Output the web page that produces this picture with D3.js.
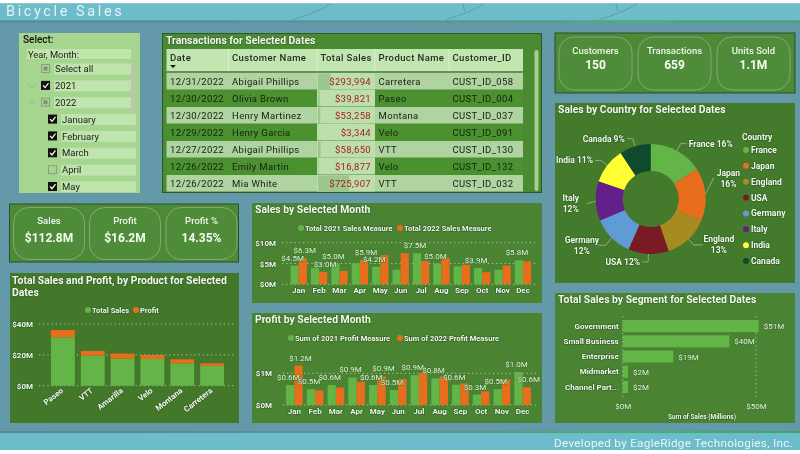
<!DOCTYPE html>
<html>
<head>
<meta charset="utf-8">
<script src="https://cdn.jsdelivr.net/npm/d3@7"></script>
<style>
  html, body { margin: 0; padding: 0; background: #fff; overflow: hidden; }
  svg { display: block; filter: blur(0.3px); }
  text { font-family: Roboto, "Open Sans", sans-serif; }
  .lbl { fill: #f1f8ec; font-weight: 700; paint-order: stroke; stroke: #2f5f22; stroke-width: 1.2px; }
  .dl { fill: #e6f2df; paint-order: stroke; stroke: #3c7327; stroke-width: 1px; }
  .title { fill: #f3f8ef; font-weight: 700; font-size: 10.4px; paint-order: stroke; stroke: #2f5f22; stroke-width: 0.8px; }
</style>
</head>
<body>
<svg id="chart" width="800" height="454"></svg>
<script>
// slicer
const slicerRows = ["Select all", "2021", "2022", "January", "February", "March", "April", "May"];
const slicerState = ["part", "on", "part", "on", "on", "on", "off", "on"];
const slicerLevel = [0, 0, 0, 1, 1, 1, 1, 1];

// table
const tableHead = ["Date", "Customer Name", "Total Sales", "Product Name", "Customer_ID"];
const dates = ["12/31/2022", "12/30/2022", "12/30/2022", "12/29/2022", "12/27/2022", "12/26/2022", "12/26/2022"];
const customers = ["Abigail Phillips", "Olivia Brown", "Henry Martinez", "Henry Garcia", "Abigail Phillips", "Emily Martin", "Mia White"];
const totalSales = [293994, 39821, 53258, 3344, 58650, 16877, 725907];
const productNames = ["Carretera", "Paseo", "Montana", "Velo", "VTT", "Velo", "VTT"];
const customerIds = ["CUST_ID_058", "CUST_ID_004", "CUST_ID_037", "CUST_ID_091", "CUST_ID_130", "CUST_ID_132", "CUST_ID_032"];

// kpi cards
const kpiTop = [["Customers", "150"], ["Transactions", "659"], ["Units Sold", "1.1M"]];
const kpiLeft = [["Sales", "$112.8M"], ["Profit", "$16.2M"], ["Profit %", "14.35%"]];

// product chart
const products = ["Paseo", "VTT", "Amarilla", "Velo", "Montana", "Carretera"];
const productSales = [31.4, 19.5, 17.5, 17.3, 14.5, 12.8];
const productProfit = [4.7, 3.0, 3.3, 2.6, 2.6, 1.7];

// monthly charts
const months = ["Jan", "Feb", "Mar", "Apr", "May", "Jun", "Jul", "Aug", "Sep", "Oct", "Nov", "Dec"];
const sales2021 = [4.5, 3.9, 5.0, 5.0, 4.2, 3.5, 7.5, 5.0, 4.3, 3.9, 3.5, 5.8];
const sales2022 = [6.3, 3.0, 3.2, 5.9, 7.0, 7.5, 5.6, 6.3, 4.7, 2.9, 4.5, 5.5];
const salesLabels2021 = [1, 0, 1, 0, 1, 0, 1, 1, 0, 1, 0, 1];
const salesLabels2022 = [1, 1, 0, 1, 0, 0, 0, 0, 0, 0, 0, 0];
const profit2021 = [0.63, 0.5, 0.63, 0.87, 0.63, 0.47, 0.94, 0.84, 0.64, 0.33, 0.5, 1.04];
const profit2022 = [1.24, 0.46, 0.55, 0.73, 0.9, 0.82, 1.0, 0.9, 0.68, 0.43, 0.81, 0.56];
const profitLabels2021 = [1, 1, 1, 1, 1, 1, 1, 1, 1, 1, 1, 1];
const profitLabels2022 = [1, 0, 0, 0, 1, 0, 0, 0, 0, 0, 0, 1];

// pie
const countries = ["France", "Japan", "England", "USA", "Germany", "Italy", "India", "Canada"];
const countryShare = [15.8, 15.5, 13.4, 11.9, 12.0, 11.6, 10.6, 9.2];
const countryColors = ["#62b546", "#e86d1d", "#a78a20", "#7a1a24", "#5f9bd5", "#641f8a", "#ffff33", "#0f4a2e"];
const pieSingleLine = ["France", "Canada", "India", "USA"];

// segments
const segments = ["Government", "Small Business", "Enterprise", "Midmarket", "Channel Part..."];
const segmentSales = [51, 40, 19, 2, 2];

const GREEN = "#62b546", ORANGE = "#e86d1d";
const svg = d3.select("#chart");

// page background and bands
svg.append("rect").attr("width", 800).attr("height", 454).attr("fill", "#6499aa");
svg.append("rect").attr("width", 800).attr("height", 3.5).attr("fill", "#fff");
svg.append("rect").attr("y", 3.5).attr("width", 800).attr("height", 17).attr("fill", "#6dbccb");
svg.append("text").attr("x", 6).attr("y", 16).attr("fill", "#e4f2f5")
  .attr("font-size", 14.5).attr("letter-spacing", 2.6).text("Bicycle Sales");

// faint bike frame strokes behind the header
[0, 153, 306].forEach(dx => {
  svg.append("path").attr("d", `M${293 + dx},19.5 C${308 + dx},15 ${320 + dx},11 ${331 + dx},3.5`)
    .attr("fill", "none").attr("stroke", "#5f8e9a").attr("stroke-width", 0.7);
  if (dx) svg.append("path").attr("d", `M${310 + dx},3.5 L${312 + dx},12`)
    .attr("fill", "none").attr("stroke", "#5f8e9a").attr("stroke-width", 0.7);
});

const grad = svg.append("defs").append("linearGradient").attr("id", "foot");
grad.append("stop").attr("offset", "0%").attr("stop-color", "#578895");
grad.append("stop").attr("offset", "55%").attr("stop-color", "#5a958f");
grad.append("stop").attr("offset", "80%").attr("stop-color", "#3fb56c");
grad.append("stop").attr("offset", "100%").attr("stop-color", "#3fa36c");
svg.append("rect").attr("y", 20.5).attr("width", 800).attr("height", 2).attr("fill", "url(#foot)");
svg.append("rect").attr("y", 431).attr("width", 800).attr("height", 2).attr("fill", "url(#foot)");
svg.append("rect").attr("y", 433).attr("width", 800).attr("height", 17).attr("fill", "#6dbccb");
svg.append("rect").attr("y", 450).attr("width", 800).attr("height", 4).attr("fill", "#fff");
svg.append("text").attr("x", 793).attr("y", 447).attr("text-anchor", "end").attr("fill", "#e8f5f7")
  .attr("font-size", 11.7).attr("letter-spacing", 0.3).text("Developed by EagleRidge Technologies, Inc.");

function panel(x, y, w, h, fill, stroke) {
  const r = svg.append("rect").attr("x", x).attr("y", y).attr("width", w).attr("height", h).attr("fill", fill);
  if (stroke) r.attr("stroke", stroke).attr("stroke-width", 1);
}

function title(x, y, str) {
  svg.append("text").attr("class", "title").attr("x", x).attr("y", y).text(str);
}

function legend(items, y, size) {
  items.forEach(it => {
    svg.append("circle").attr("cx", it.x).attr("cy", y).attr("r", 3).attr("fill", it.color);
    svg.append("text").attr("class", "lbl").attr("x", it.x + 4).attr("y", y + 2.5)
      .attr("font-size", size).text(it.name);
  });
}

// dotted value axis shared by the column charts
function valueAxis(yScale, ticks, labelX, x0, x1, fmt) {
  const g = svg.append("g").attr("transform", `translate(${labelX + 4},0)`)
    .call(d3.axisLeft(yScale).tickValues(ticks).tickSize(0).tickPadding(4).tickFormat(fmt));
  g.select(".domain").remove();
  g.selectAll("text").attr("class", "lbl").attr("font-size", 8).style("font-family", null);
  svg.append("g").selectAll("line").data(ticks).join("line")
    .attr("x1", x0).attr("x2", x1)
    .attr("y1", d => yScale(d)).attr("y2", d => yScale(d))
    .attr("stroke", "#c7dcc0").attr("stroke-width", 0.8).attr("stroke-dasharray", "1.2 3");
}

function monthChart(opts) {
  const x0 = d3.scaleBand().domain(months).range(opts.xRange).paddingInner(0.2).paddingOuter(0.1);
  const x1 = d3.scaleBand().domain([0, 1]).range([0, x0.bandwidth()]);
  const y = d3.scaleLinear().domain(opts.yDomain).range(opts.yRange);
  valueAxis(y, opts.ticks, opts.labelX, opts.gridX[0], opts.gridX[1], d => "$" + d + "M");

  [opts.a, opts.b].forEach((vals, s) => {
    svg.append("g").selectAll("rect").data(vals).join("rect")
      .attr("x", (d, i) => x0(months[i]) + x1(s))
      .attr("y", d => y(d))
      .attr("width", x1.bandwidth())
      .attr("height", d => y(0) - y(d))
      .attr("fill", s ? ORANGE : GREEN);
  });
  [[opts.a, opts.aShow, 0], [opts.b, opts.bShow, 1]].forEach(([vals, show, s]) => {
    const shown = vals.map((v, i) => ({ v, i })).filter(d => show[d.i]);
    svg.append("g").selectAll("text").data(shown).join("text")
      .attr("class", "dl").attr("font-size", 8).attr("text-anchor", "middle")
      .attr("x", d => x0(months[d.i]) + x1(s) + x1.bandwidth() / 2 + (s ? 2 : -2))
      .attr("y", d => y(d.v) - 5)
      .text(d => "$" + d.v.toFixed(1) + "M");
  });

  const ax = svg.append("g").attr("transform", `translate(0,${opts.yRange[0]})`)
    .call(d3.axisBottom(x0).tickSize(0).tickPadding(3));
  ax.select(".domain").remove();
  ax.selectAll("text").attr("class", "lbl").attr("font-size", 8).style("font-family", null);
}

// slicer panel
panel(19, 33, 121, 160, "#a5d58f");
svg.append("text").attr("x", 23).attr("y", 43).attr("font-size", 10).attr("font-weight", 500).attr("fill", "#111").text("Select:");
svg.append("rect").attr("x", 27).attr("y", 49).attr("width", 104).attr("height", 10).attr("fill", "#bfe5ad");
svg.append("text").attr("x", 28).attr("y", 57.5).attr("font-size", 9.3).attr("fill", "#222").text("Year, Month:");
svg.append("clipPath").attr("id", "slicerClip").append("rect").attr("x", 19).attr("y", 33).attr("width", 121).attr("height", 159);
const rowY = d3.scalePoint().domain(d3.range(slicerRows.length)).range([69, 187]);
const slicer = svg.append("g").attr("clip-path", "url(#slicerClip)");
slicer.append("rect").attr("x", 131).attr("y", 62).attr("width", 5).attr("height", 64).attr("fill", "#b6c9a9");
slicerRows.forEach((name, i) => {
  const cy = rowY(i), boxX = slicerLevel[i] ? 48 : 41, textX = boxX + 14;
  slicer.append("rect").attr("x", textX - 1).attr("y", cy - 5.5).attr("height", 11)
    .attr("width", (slicerLevel[i] ? 136 : 131) - textX + 1).attr("fill", "#bfe5ad");
  const st = slicerState[i];
  slicer.append("rect").attr("x", boxX + 0.5).attr("y", cy - 4.5).attr("width", 8).attr("height", 8)
    .attr("fill", st === "on" ? "#111" : "none")
    .attr("stroke", st === "on" ? "#111" : "#8c9c84").attr("stroke-width", 1);
  if (st === "on") {
    slicer.append("path").attr("d", `M${boxX + 2},${cy - 0.5} l2,2.2 l3.5,-4.5`)
      .attr("fill", "none").attr("stroke", "#fff").attr("stroke-width", 1.2);
  } else if (st === "part") {
    slicer.append("rect").attr("x", boxX + 2.5).attr("y", cy - 2.5).attr("width", 4).attr("height", 4).attr("fill", "#7f8f78");
  }
  slicer.append("text").attr("x", textX).attr("y", cy + 3.2).attr("font-size", 9.5).attr("fill", "#222").text(name);
});
// year expanders
slicer.append("path").attr("d", `M29,${rowY(1) - 1} l3,3 l3,-3`).attr("fill", "none").attr("stroke", "#8fae84");
slicer.append("path").attr("d", `M29,${rowY(2) + 1.5} l3,-3 l3,3`).attr("fill", "none").attr("stroke", "#8fae84");

// transactions table
panel(162.5, 33.5, 379, 159, "#4a8a33", "#2c5a24");
title(166, 44, "Transactions for Selected Dates");
const colX = [166.5, 228.5, 317, 375, 449, 523];
const rowH = 17, rowTop = 73;
const barX = d3.scaleLinear().domain([0, 1358000]).range([0, 58]);
svg.append("rect").attr("x", colX[0]).attr("y", 49).attr("width", colX[5] - colX[0]).attr("height", 22).attr("fill", "#c3e5b2");
d3.range(1, 5).forEach(i => svg.append("line").attr("x1", colX[i]).attr("x2", colX[i]).attr("y1", 49).attr("y2", 71).attr("stroke", "#d8eecc"));
tableHead.forEach((h, i) => {
  svg.append("text").attr("x", colX[i] + 3.5).attr("y", 61).attr("font-size", 9.5).attr("font-weight", 500)
    .attr("letter-spacing", 0.4).attr("fill", "#1f2a18").text(h);
});
svg.append("path").attr("d", "M170,65 h6 l-3,3 z").attr("fill", "#111");
svg.append("line").attr("x1", colX[0]).attr("x2", colX[5]).attr("y1", 72).attr("y2", 72).attr("stroke", "#7f9c76");

dates.forEach((d, i) => {
  const y = rowTop + i * rowH;
  const odd = i % 2 === 0;
  svg.append("rect").attr("x", colX[0]).attr("y", y).attr("width", colX[5] - colX[0]).attr("height", rowH - 0.5)
    .attr("fill", odd ? "#b0d3a2" : "#4c9130");
  svg.append("rect").attr("x", colX[2]).attr("y", y).attr("width", colX[3] - colX[2]).attr("height", rowH - 0.5)
    .attr("fill", "#bcdfac");
  svg.append("rect").attr("x", colX[2] + 1).attr("y", y + 0.5).attr("width", barX(totalSales[i])).attr("height", rowH - 1.5)
    .attr("fill", "#9cc88c");
  const cells = [d, customers[i], null, productNames[i], customerIds[i]];
  cells.forEach((c, k) => {
    if (c) svg.append("text").attr("x", colX[k] + 3.5).attr("y", y + 12).attr("font-size", 9.5)
      .attr("letter-spacing", 0.35).attr("fill", "#14200f").text(c);
  });
  svg.append("text").attr("x", colX[3] - 4).attr("y", y + 12).attr("font-size", 9.5).attr("text-anchor", "end")
    .attr("letter-spacing", 0.3).attr("fill", "#a81c24").text(d3.format("$,")(totalSales[i]));
});
svg.append("rect").attr("x", 534.5).attr("y", 50).attr("width", 4).attr("height", 141).attr("rx", 2).attr("fill", "#a6d08f");

// kpi cards
function kpi(list, xs, w, top, h, dyName, dyVal) {
  list.forEach((k, i) => {
    svg.append("rect").attr("x", xs[i]).attr("y", top).attr("width", w).attr("height", h).attr("rx", 15)
      .attr("fill", "#4f8c3a").attr("stroke", "#8fae84").attr("stroke-width", 0.8);
    svg.append("text").attr("x", xs[i] + w / 2).attr("y", top + dyName).attr("text-anchor", "middle")
      .attr("fill", "#eef6ea").attr("font-size", 9.5).attr("font-weight", 500).text(k[0]);
    svg.append("text").attr("x", xs[i] + w / 2).attr("y", top + dyVal).attr("text-anchor", "middle")
      .attr("fill", "#f6fbf3").attr("font-size", 12).attr("font-weight", 700).text(k[1]);
  });
}
panel(555, 33, 240, 60, "#4d8a36", "#27512a");
kpi(kpiTop, [559, 638, 717], 73, 37, 53, 17, 32);
panel(9.5, 204, 229, 58, "#4d8a36", "#27512a");
kpi(kpiLeft, [13.5, 89.5, 166], 71, 207.5, 52, 16, 34);

// product chart
panel(10, 273, 229, 150, "#43782b");
title(12, 284, "Total Sales and Profit, by Product for Selected");
title(12, 296, "Dates");
legend([{ x: 88, color: GREEN, name: "Total Sales" }, { x: 136, color: ORANGE, name: "Profit" }], 310, 7.5);
const px = d3.scaleBand().domain(products).range([48, 227]).paddingInner(0.2).paddingOuter(0.1);
const py = d3.scaleLinear().domain([0, 40]).range([385.7, 324]);
valueAxis(py, [0, 20, 40], 33, 39, 236, d => "$" + d + "M");
svg.append("g").selectAll("rect").data(products).join("rect")
  .attr("x", d => px(d)).attr("width", px.bandwidth())
  .attr("y", (d, i) => py(productSales[i])).attr("height", (d, i) => py(0) - py(productSales[i]))
  .attr("fill", GREEN);
svg.append("g").selectAll("rect").data(products).join("rect")
  .attr("x", d => px(d)).attr("width", px.bandwidth())
  .attr("y", (d, i) => py(productSales[i] + productProfit[i])).attr("height", (d, i) => py(0) - py(productProfit[i]))
  .attr("fill", ORANGE);
svg.append("g").selectAll("text").data(products).join("text")
  .attr("class", "lbl").attr("font-size", 8).attr("text-anchor", "end")
  .attr("transform", d => `translate(${px(d) + px.bandwidth() / 2 + 1},${py(0) + 6}) rotate(-38)`)
  .text(d => d);

// monthly charts
panel(252, 203, 290, 100, "#4a8433");
title(255, 213, "Sales by Selected Month");
legend([{ x: 301, color: GREEN, name: "Total 2021 Sales Measure" }, { x: 400, color: ORANGE, name: "Total 2022 Sales Measure" }], 228, 7.5);
monthChart({
  xRange: [288.5, 533.2], yDomain: [0, 10], yRange: [284.3, 242.7], ticks: [0, 5, 10], labelX: 276, gridX: [282, 538],
  a: sales2021, b: sales2022, aShow: salesLabels2021, bShow: salesLabels2022
});

panel(252, 313, 290, 110, "#4a8433");
title(255, 323, "Profit by Selected Month");
legend([{ x: 291, color: GREEN, name: "Sum of 2021 Profit Measure" }, { x: 400, color: ORANGE, name: "Sum of 2022 Profit Measure" }], 338, 7.5);
monthChart({
  xRange: [284, 533], yDomain: [0, 1], yRange: [405, 373.3], ticks: [0, 1], labelX: 272, gridX: [283, 538],
  a: profit2021, b: profit2022, aShow: profitLabels2021, bShow: profitLabels2022
});

// country donut
panel(555, 103, 240, 180, "#437a2b");
title(558, 113, "Sales by Country for Selected Dates");
const pieG = svg.append("g").attr("transform", "translate(650.7,199)");
const pie = d3.pie().sort(null).value(d => d);
const arc = d3.arc().innerRadius(28).outerRadius(55);
const rim = d3.arc().innerRadius(55).outerRadius(55);
const slices = pie(countryShare);
pieG.selectAll("path").data(slices).join("path").attr("d", arc).attr("fill", (d, i) => countryColors[i]);
const labelArc = d3.arc().innerRadius(63).outerRadius(63);
const labelGap = { Italy: 3, Germany: 10, Japan: 1, England: 11 };
const labelRise = { Japan: -15, Italy: 2, Germany: 2 };
slices.forEach((s, i) => {
  const name = countries[i];
  const [ex, ey0] = labelArc.centroid(s);
  const [ox, oy] = rim.centroid(s);
  const ey = ey0 + (labelRise[name] || 0);
  const right = ex > 0;
  const tx = ex + (right ? 1 : -1) * (labelGap[name] || 8);
  pieG.append("polyline")
    .attr("points", [[ox, oy], [ex, ey], [tx - (right ? 2 : -2), ey]].join(" "))
    .attr("fill", "none").attr("stroke", "#a9c69e").attr("stroke-width", 0.7);
  const pct = Math.round(countryShare[i]) + "%";
  const lines = pieSingleLine.includes(name) ? [name + " " + pct] : [name, pct];
  const t = pieG.append("text").attr("class", "lbl").attr("font-size", 8.5)
    .attr("text-anchor", lines.length > 1 ? "middle" : (right ? "start" : "end"));
  const anchorX = lines.length > 1 ? tx + (right ? 14 : -14) : tx;
  lines.forEach((ln, k) => {
    t.append("tspan").attr("x", anchorX).attr("y", ey + 3 + (k - (lines.length - 1) / 2) * 11).text(ln);
  });
});
svg.append("text").attr("class", "lbl").attr("x", 742).attr("y", 139.5).attr("font-size", 8.5).text("Country");
const legY = d3.scalePoint().domain(countries).range([150, 261]);
countries.forEach((c, i) => {
  svg.append("circle").attr("cx", 746).attr("cy", legY(c)).attr("r", 3).attr("fill", countryColors[i]);
  svg.append("text").attr("class", "lbl").attr("x", 751).attr("y", legY(c) + 3).attr("font-size", 8.5).text(c);
});

// segment chart
panel(555, 293, 240, 130, "#4a8433");
title(558, 303, "Total Sales by Segment for Selected Dates");
const sx = d3.scaleLinear().domain([0, 50]).range([622.7, 756]);
const sy = d3.scaleBand().domain(segments).range([318.5, 394.5]).paddingInner(0.21).paddingOuter(0.1);
svg.append("g").selectAll("line").data([0, 50]).join("line")
  .attr("x1", d => sx(d)).attr("x2", d => sx(d)).attr("y1", 316).attr("y2", 400)
  .attr("stroke", "#c7dcc0").attr("stroke-width", 0.8).attr("stroke-dasharray", "1.2 3");
svg.append("g").selectAll("rect").data(segmentSales).join("rect")
  .attr("x", sx(0)).attr("y", (d, i) => sy(segments[i]))
  .attr("width", d => sx(d) - sx(0)).attr("height", sy.bandwidth()).attr("fill", GREEN);
svg.append("g").selectAll("text").data(segmentSales).join("text")
  .attr("class", "dl").attr("font-size", 8)
  .attr("x", d => sx(d) + 5).attr("y", (d, i) => sy(segments[i]) + sy.bandwidth() / 2 + 3)
  .text(d => "$" + d + "M");
const segAxis = svg.append("g").attr("transform", `translate(${sx(0) - 4},0)`)
  .call(d3.axisLeft(sy).tickSize(0).tickPadding(0));
segAxis.select(".domain").remove();
segAxis.selectAll("text").attr("class", "lbl").attr("font-size", 8).style("font-family", null);
const segBottom = svg.append("g").attr("transform", "translate(0,400)")
  .call(d3.axisBottom(sx).tickValues([0, 50]).tickSize(0).tickPadding(3).tickFormat(d => "$" + d + "M"));
segBottom.select(".domain").remove();
segBottom.selectAll("text").attr("class", "dl").attr("font-size", 8).style("font-family", null);
svg.append("text").attr("class", "lbl").attr("x", 702).attr("y", 419).attr("text-anchor", "middle")
  .attr("font-size", 6.5).text("Sum of Sales (Millions)");
</script>
</body>
</html>
